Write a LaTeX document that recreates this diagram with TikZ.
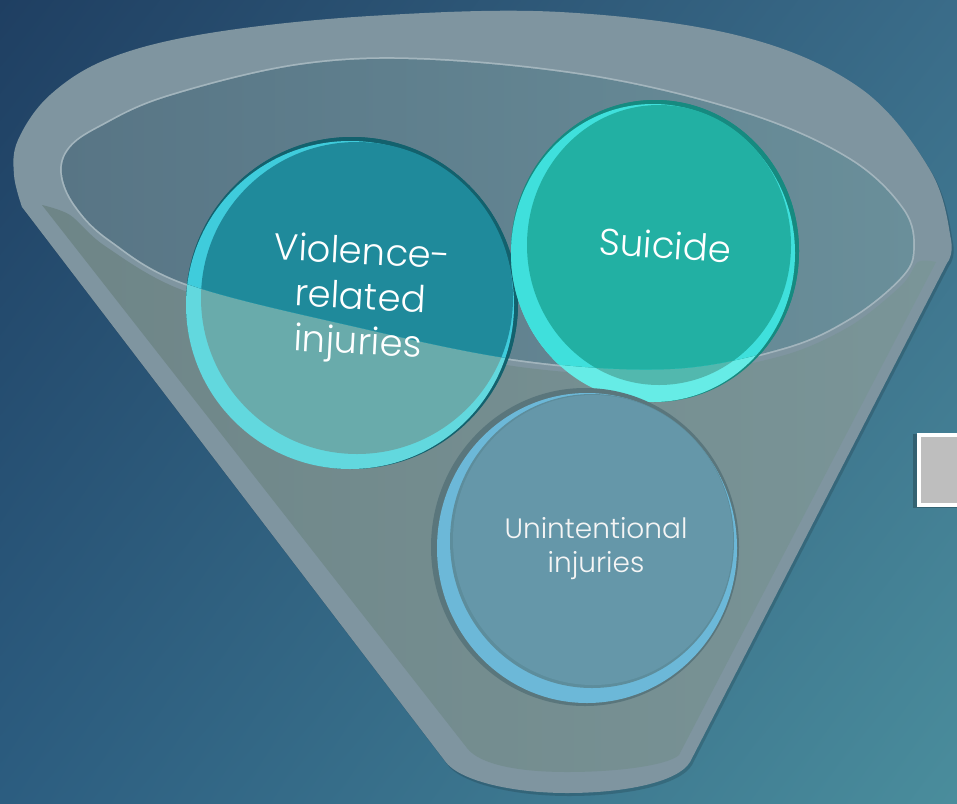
\documentclass[tikz,border=0pt]{standalone}
\usepackage{fontspec}
\usetikzlibrary{shadings}
\newfontfamily\lblfont{Poppins Light}
\definecolor{bgTL}{HTML}{1F3F62}
\definecolor{bgTR}{HTML}{3A6C89}
\definecolor{bgBL}{HTML}{2C5D80}
\definecolor{bgBR}{HTML}{4A8D9C}
\definecolor{rim}{HTML}{7F95A0}
\definecolor{ringlight}{HTML}{A3B5BD}
\definecolor{inL}{HTML}{587585}
\definecolor{inR}{HTML}{6A8F9A}
\definecolor{bodyL}{HTML}{6E8587}
\definecolor{bodyR}{HTML}{7A9598}
\definecolor{vEdge}{HTML}{13616D}
\definecolor{vHl}{HTML}{3FCCDC}
\definecolor{vMain}{HTML}{1F8A9B}
\definecolor{vHlLow}{HTML}{62D8DE}
\definecolor{vMainLow}{HTML}{69ABAB}
\definecolor{sEdge}{HTML}{168A80}
\definecolor{sHl}{HTML}{3FE0DC}
\definecolor{sMain}{HTML}{22B0A3}
\definecolor{sHlLow}{HTML}{66ECE6}
\definecolor{sMainLow}{HTML}{52B8AE}
\definecolor{uShadow}{HTML}{5A767C}
\definecolor{uHl}{HTML}{6CB8D8}
\definecolor{uRing}{HTML}{5D8D9C}
\definecolor{uMain}{HTML}{6597A9}
\definecolor{boxgrey}{HTML}{BEBEBE}
\newcommand\funnelpath{(22,207) -- (445,761) .. controls (458,780) and (510,793) .. (567,793) .. controls (625,793) and (678,782) .. (690,762) -- (947,263) -- plot[smooth, tension=0.6] coordinates {(947,263) (951,240) (930,170) (860,88) (740,36) (560,12) (370,16) (210,33) (110,58) (50,95) (18,140) (14,175) (22,207)} -- cycle}
\newcommand\bodypath{(42,205) -- (467,748) .. controls (480,765) and (520,772) .. (567,772) .. controls (620,772) and (668,765) .. (679,755) -- (936,262) -- plot[smooth] coordinates {(936,262) (918,262) (902,285) (852,325) (785,355) (670,376) (520,367) (352,333) (185,291) (105,246) (70,215) (42,205)} -- cycle}
\newcommand\openpath{plot[smooth cycle, tension=0.6] coordinates {(62,173) (75,205) (110,240) (187,284) (352,326) (520,360) (670,369) (783,348) (850,318) (900,278) (913,250) (903,210) (850,160) (750,115) (600,78) (430,60) (300,65) (167,97) (100,127) (70,148)}}
\begin{document}
\begin{tikzpicture}[x=1pt,y=-1pt,
  lbl/.style={text=white, align=center}]
\useasboundingbox (0,0) rectangle (957,803);
\shade[upper left=bgTL, upper right=bgTR, lower left=bgBL, lower right=bgBR] (0,0) rectangle (957,803);
% funnel
\begin{scope}[shift={(2,3)}]
\fill[black, opacity=0.15] \funnelpath;
\end{scope}
\fill[rim] \funnelpath;
\shade[left color=bodyL, right color=bodyR] \bodypath;
\draw[ringlight, line width=3.5pt] \openpath;
\shade[left color=inL, right color=inR] \openpath;
% violence circle
\fill[vEdge] (352,303) circle (166);
\fill[vHlLow] (350,305) circle (164);
\fill[vMainLow] (357,298) circle (156);
\begin{scope}
\clip \openpath;
\fill[vEdge] (352,303) circle (166);
\fill[vHl] (350,305) circle (164);
\fill[vMain] (357,298) circle (156);
\end{scope}
% suicide circle
\fill[sEdge] (655,251) ellipse [x radius=144, y radius=151];
\fill[sHlLow] (653,253) ellipse [x radius=142, y radius=149];
\fill[sMainLow] (659,245) ellipse [x radius=132, y radius=140];
\begin{scope}
\clip \openpath;
\fill[sEdge] (655,251) ellipse [x radius=144, y radius=151];
\fill[sHl] (653,253) ellipse [x radius=142, y radius=149];
\fill[sMain] (659,245) ellipse [x radius=132, y radius=140];
\end{scope}
% unintentional circle
\fill[uShadow] (585,547) ellipse [x radius=154, y radius=159];
\fill[uHl] (587,548) ellipse [x radius=150, y radius=155];
\fill[uRing] (592,541) ellipse [x radius=142, y radius=147];
\fill[uMain] (593,540) ellipse [x radius=140, y radius=145];
% texts
\node[lbl, rotate=-3, font=\lblfont\fontsize{37}{45}\selectfont] (violence) at (360,300) {Violence-\\related\\injuries};
\node[lbl, rotate=-4, font=\lblfont\fontsize{37}{45}\selectfont] (suicide) at (665,245) {Suicide};
\node[lbl, text=white!92!gray, font=\lblfont\fontsize{28}{34}\selectfont] (unint) at (596,549) {Unintentional\\injuries};
% box
\fill[black, opacity=0.22] (913,434) rectangle (975,508);
\node[draw=white, line width=4pt, fill=boxgrey, minimum width=60pt, minimum height=70pt, anchor=north west, inner sep=0pt] (box) at (917,433) {};
\end{tikzpicture}
\end{document}
